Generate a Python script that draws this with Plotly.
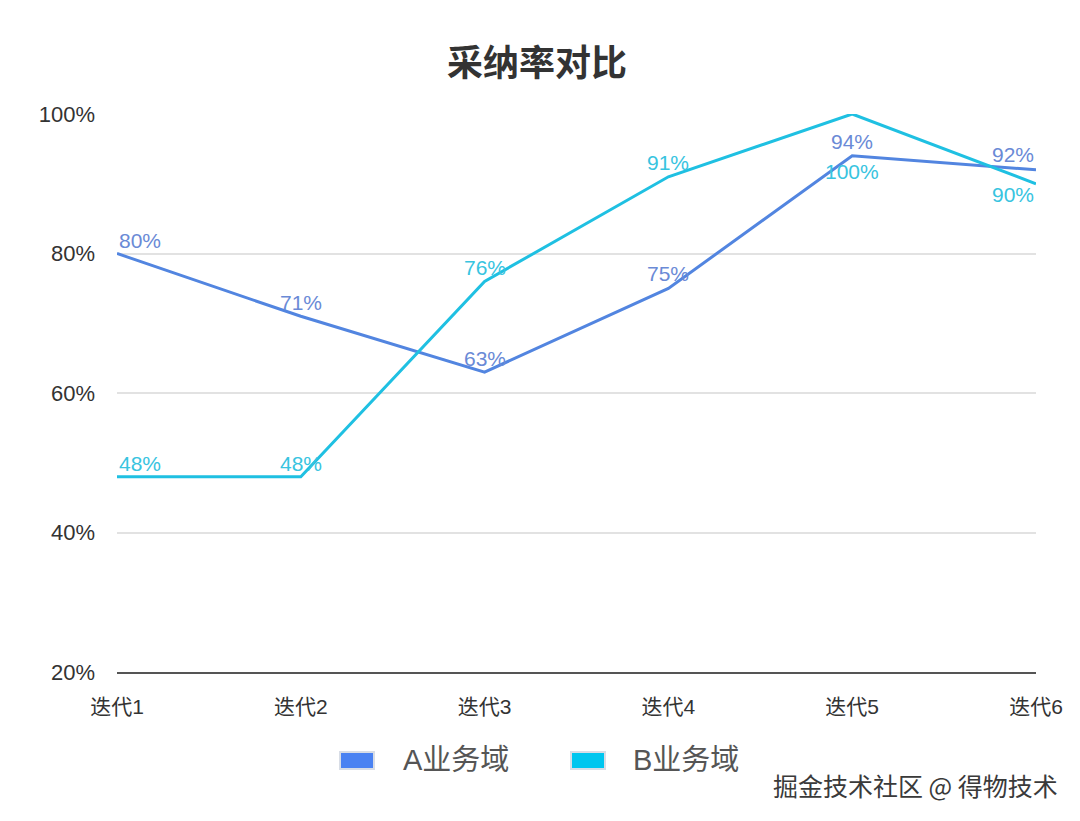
import plotly.graph_objects as go

categories = ["迭代1", "迭代2", "迭代3", "迭代4", "迭代5", "迭代6"]
series_a = [80, 71, 63, 75, 94, 92]
series_b = [48, 48, 76, 91, 100, 90]
y_ticks = [20, 40, 60, 80, 100]
series_names = ["A业务域", "B业务域"]

FONT = "Liberation Sans, Noto Sans CJK SC, sans-serif"
CJK = "Noto Sans CJK SC, sans-serif"
LINE_A = "#5285e0"
LINE_B = "#1fc0e2"
LABEL_A = "#6a8ad6"
LABEL_B = "#38c4df"
LEG_A = "#4a82f2"
LEG_B = "#00c6ef"

# label placement per point: (yshift, xanchor)
label_pos_a = [(13, "left"), (14, "center"), (14, "center"), (15, "center"), (14, "center"), (15, "right")]
label_pos_b = [(13, "left"), (13, "center"), (14, "center"), (14, "center"), (-57, "center"), (-11, "right")]

# page offset (body margin) compensation
OFF = 8
W, H = 1080, 821
L, R, T, B = 117 - OFF, 44 + OFF, 114 - OFF, 149 + OFF
pw, ph = W - L - R, H - T - B


def px(x):
    return (x - OFF - L) / pw


def py(y):
    return (H - B - (y - OFF)) / ph


fig = go.Figure()
fig.add_trace(go.Scatter(x=categories, y=series_a, mode="lines", name=series_names[0],
                         line=dict(color=LINE_A, width=3), showlegend=False))
fig.add_trace(go.Scatter(x=categories, y=series_b, mode="lines", name=series_names[1],
                         line=dict(color=LINE_B, width=3), showlegend=False))

annotations = []
for vals, pos, col in ((series_a, label_pos_a, LABEL_A), (series_b, label_pos_b, LABEL_B)):
    for c, v, (ys, xa) in zip(categories, vals, pos):
        annotations.append(dict(x=c, y=v, xref="x", yref="y", text=f"{v}%", showarrow=False,
                                xanchor=xa, yanchor="middle", yshift=ys,
                                font=dict(family=FONT, size=21, color=col)))

shapes = []
for (x0, x1, col, tx, name) in ((340, 374, LEG_A, 401, series_names[0]), (571, 605, LEG_B, 631, series_names[1])):
    shapes.append(dict(type="rect", xref="paper", yref="paper", x0=px(x0), x1=px(x1), y0=py(769), y1=py(752),
                       fillcolor=col, line=dict(color="#d8dde6", width=2)))
    annotations.append(dict(x=px(tx), y=py(760), xref="paper", yref="paper", text=name, showarrow=False,
                            xanchor="left", yanchor="middle", font=dict(family=FONT, size=29, color="#555555")))

annotations.append(dict(x=px(1060), y=py(785), xref="paper", yref="paper", text="掘金技术社区 @ 得物技术",
                        showarrow=False, xanchor="right", yanchor="middle",
                        font=dict(family=CJK, size=25, color="#3a3a3a")))

fig.update_layout(
    width=W, height=H,
    margin=dict(l=L, r=R, t=T, b=B),
    paper_bgcolor="white", plot_bgcolor="white",
    title=dict(text="<b>采纳率对比</b>", x=px(537), xanchor="center", xref="paper",
               y=1 - (63 - OFF) / H, yanchor="middle",
               font=dict(family=CJK, size=36, color="#333333")),
    xaxis=dict(type="category", range=[0, len(categories) - 1], showgrid=False, showline=True,
               linecolor="#555555", linewidth=2, ticks="", ticklabelstandoff=15,
               tickfont=dict(family=FONT, size=21, color="#333333")),
    yaxis=dict(range=[20, 100], tickvals=y_ticks, ticktext=[f"{t}%" for t in y_ticks],
               showgrid=True, gridcolor="#e2e2e2", gridwidth=1.5, zeroline=False, showline=False,
               ticks="", ticklabelstandoff=21,
               tickfont=dict(family=FONT, size=22, color="#333333")),
    shapes=shapes, annotations=annotations, showlegend=False,
)

fig.write_html("out.html")
